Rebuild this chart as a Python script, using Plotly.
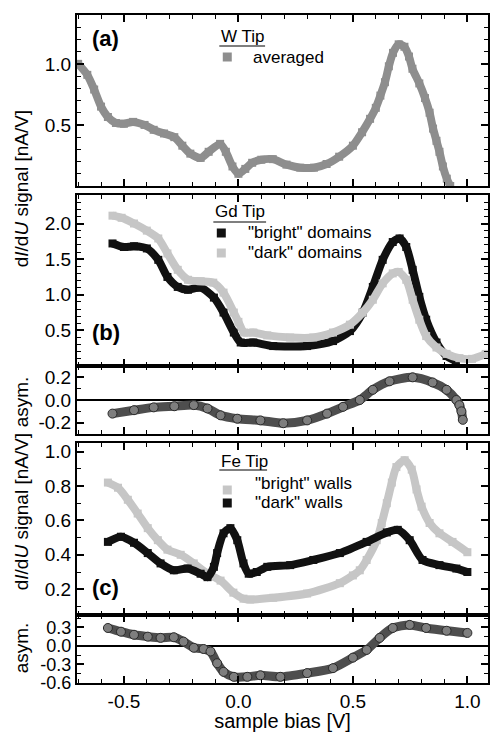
import plotly.graph_objects as go
from plotly.subplots import make_subplots

# ---------------- data ----------------
# panel (a): W tip, averaged
a_x = [-0.70, -0.66, -0.63, -0.60, -0.57, -0.535, -0.50, -0.46, -0.41, -0.37, -0.325, -0.28,
       -0.245, -0.21, -0.165, -0.13, -0.08, -0.055, -0.026, 0.0, 0.03, 0.06, 0.10, 0.15, 0.21,
       0.27, 0.33, 0.385, 0.44, 0.50, 0.54, 0.575, 0.60, 0.62, 0.64, 0.657, 0.675, 0.70, 0.725,
       0.745, 0.76, 0.79, 0.815, 0.835, 0.85, 0.865, 0.878, 0.893, 0.91, 0.925]
a_y = [1.00, 0.91, 0.79, 0.65, 0.565, 0.516, 0.51, 0.525, 0.50, 0.46, 0.43, 0.40,
       0.33, 0.265, 0.23, 0.28, 0.345, 0.28, 0.16, 0.10, 0.14, 0.19, 0.215, 0.22, 0.175,
       0.15, 0.15, 0.18, 0.24, 0.33, 0.44, 0.55, 0.64, 0.74, 0.85, 0.98, 1.09, 1.16, 1.14,
       1.06, 0.96, 0.84, 0.72, 0.60, 0.47, 0.37, 0.28, 0.16, 0.06, 0.0]

# panel (b): Gd tip
b_bright_x = [-0.55, -0.50, -0.456, -0.40, -0.35, -0.31, -0.265, -0.22, -0.165, -0.107, -0.065,
              -0.02, 0.01, 0.065, 0.152, 0.30, 0.413, 0.487, 0.543, 0.587, 0.63, 0.674, 0.704,
              0.733, 0.761, 0.79, 0.82, 0.865, 0.909, 0.95]
b_bright_y = [1.72, 1.67, 1.68, 1.65, 1.49, 1.25, 1.11, 1.07, 1.10, 0.96, 0.75,
              0.47, 0.33, 0.33, 0.28, 0.28, 0.35, 0.49, 0.75, 1.11, 1.49, 1.74, 1.79,
              1.67, 1.35, 0.97, 0.65, 0.33, 0.14, 0.07]
b_dark_x = [-0.55, -0.51, -0.456, -0.40, -0.35, -0.31, -0.265, -0.22, -0.165, -0.11, -0.065,
            -0.02, 0.0, 0.025, 0.065, 0.126, 0.226, 0.327, 0.413, 0.487, 0.543, 0.587, 0.63,
            0.674, 0.70, 0.733, 0.761, 0.79, 0.82, 0.865, 0.909, 0.965, 1.02, 1.08]
b_dark_y = [2.11, 2.08, 2.00, 1.90, 1.79, 1.58, 1.35, 1.21, 1.19, 1.17, 1.03,
            0.75, 0.62, 0.47, 0.47, 0.43, 0.40, 0.40, 0.47, 0.58, 0.75, 0.93, 1.16,
            1.30, 1.32, 1.21, 0.93, 0.65, 0.42, 0.26, 0.17, 0.11, 0.10, 0.17]
b_asym_x = [-0.55, -0.456, -0.37, -0.28, -0.195, -0.135, -0.078, -0.005, 0.096, 0.196, 0.30,
            0.387, 0.457, 0.53, 0.587, 0.66, 0.761, 0.848, 0.909, 0.952, 0.965, 0.974, 0.98]
b_asym_y = [-0.12, -0.09, -0.065, -0.055, -0.045, -0.075, -0.135, -0.165, -0.18, -0.205, -0.18,
            -0.12, -0.06, 0.0, 0.09, 0.165, 0.20, 0.155, 0.09, 0.0, -0.045, -0.10, -0.175]

# panel (c): Fe tip
c_bright_x = [-0.57, -0.526, -0.483, -0.44, -0.396, -0.352, -0.31, -0.252, -0.195, -0.135, -0.078,
              -0.022, 0.022, 0.052, 0.152, 0.30, 0.443, 0.50, 0.53, 0.56, 0.604, 0.626, 0.648,
              0.67, 0.69, 0.726, 0.757, 0.778, 0.80, 0.835, 0.878, 0.935, 1.0]
c_bright_y = [0.82, 0.79, 0.72, 0.64, 0.555, 0.485, 0.43, 0.40, 0.35, 0.29, 0.25,
              0.18, 0.145, 0.14, 0.15, 0.175, 0.235, 0.28, 0.31, 0.37, 0.485, 0.585, 0.70,
              0.82, 0.91, 0.95, 0.895, 0.78, 0.68, 0.585, 0.525, 0.475, 0.415]
c_dark_x = [-0.57, -0.513, -0.456, -0.396, -0.34, -0.282, -0.222, -0.165, -0.135, -0.107, -0.093,
            -0.065, -0.035, -0.005, 0.022, 0.045, 0.08, 0.126, 0.226, 0.327, 0.443, 0.56, 0.648,
            0.696, 0.748, 0.804, 0.878, 0.952, 1.0]
c_dark_y = [0.475, 0.505, 0.47, 0.41, 0.35, 0.31, 0.32, 0.29, 0.27, 0.33, 0.41,
            0.525, 0.555, 0.485, 0.35, 0.29, 0.30, 0.33, 0.34, 0.37, 0.41, 0.475, 0.53,
            0.545, 0.485, 0.37, 0.34, 0.32, 0.30]
c_asym_x = [-0.57, -0.513, -0.456, -0.396, -0.34, -0.282, -0.24, -0.195, -0.152, -0.122, -0.093,
            -0.065, -0.02, 0.039, 0.096, 0.183, 0.30, 0.413, 0.50, 0.56, 0.617, 0.674, 0.748,
            0.82, 0.909, 1.0]
c_asym_y = [0.29, 0.23, 0.18, 0.15, 0.13, 0.14, 0.07, -0.03, -0.05, -0.09, -0.28,
            -0.42, -0.50, -0.50, -0.475, -0.50, -0.44, -0.36, -0.19, -0.065, 0.13, 0.29, 0.34,
            0.29, 0.245, 0.21]

# tick labels
x_ticks = [-0.5, 0.0, 0.5, 1.0]
x_ticktext = ["-0.5", "0.0", "0.5", "1.0"]
ya_ticks = [0.5, 1.0]
ya_ticktext = ["0.5", "1.0"]
yb_ticks = [0.5, 1.0, 1.5, 2.0]
yb_ticktext = ["0.5", "1.0", "1.5", "2.0"]
yba_ticks = [-0.2, 0.0, 0.2]
yba_ticktext = ["-0.2", "0.0", "0.2"]
yc_ticks = [0.2, 0.4, 0.6, 0.8, 1.0]
yc_ticktext = ["0.2", "0.4", "0.6", "0.8", "1.0"]
yca_ticks = [-0.6, -0.3, 0.0, 0.3]
yca_ticktext = ["-0.6", "-0.3", "0.0", "0.3"]

# ---------------- styling ----------------
W, H = 491, 732
ML, MR, MT, MB = 77, 1, 15, 49
PW, PH = W - ML - MR, H - MT - MB
FONT = "Liberation Sans, Arial, sans-serif"
C_A = "#8e8e8e"
C_LIGHT = "#c6c6c6"
C_DARK = "#111111"


def px(xp):
    return (xp - ML) / PW


def py(yp):
    return (H - MB - yp) / PH


fig = make_subplots(rows=5, cols=1, shared_xaxes=True, vertical_spacing=0.0)


def squares(x, y, color, row):
    fig.add_trace(go.Scatter(x=x, y=y, mode="lines+markers",
                             line=dict(color=color, width=8, shape="spline", smoothing=0.7),
                             marker=dict(symbol="square", size=8, color=color),
                             showlegend=False, hoverinfo="skip"), row=row, col=1)


def circles(x, y, row):
    fig.add_trace(go.Scatter(x=x, y=y, mode="lines+markers",
                             line=dict(color="#4e4e4e", width=9, shape="spline", smoothing=0.7),
                             marker=dict(symbol="circle", size=9, color="#7e7e7e",
                                         line=dict(color="#2a2a2a", width=1)),
                             showlegend=False, hoverinfo="skip"), row=row, col=1)


squares(a_x, a_y, C_A, 1)
squares(b_bright_x, b_bright_y, C_DARK, 2)
squares(b_dark_x, b_dark_y, C_LIGHT, 2)
circles(b_asym_x, b_asym_y, 3)
squares(c_bright_x, c_bright_y, C_LIGHT, 4)
squares(c_dark_x, c_dark_y, C_DARK, 4)
circles(c_asym_x, c_asym_y, 5)

common = dict(showline=True, linecolor="black", linewidth=2, mirror="allticks",
              ticks="inside", ticklen=7, tickwidth=1.5, tickcolor="black",
              showgrid=False, zeroline=False)

for i in range(1, 6):
    fig.update_xaxes(row=i, col=1, range=[-0.705, 1.09], tickmode="array",
                     tickvals=x_ticks, ticktext=x_ticktext,
                     tickfont=dict(family=FONT, size=19, color="black"),
                     minor=dict(ticks="inside", ticklen=4, tickwidth=1.2, tickcolor="black",
                                tickmode="linear", tick0=0, dtick=0.1),
                     showticklabels=(i == 5), **common)

fig.update_xaxes(row=5, col=1, title=dict(text="sample bias [V]", standoff=2,
                                           font=dict(family=FONT, size=20, color="black")))

ydefs = [
    (1, [0.0, 1.4], ya_ticks, ya_ticktext, 0.1, [py(186), 1.0], False, 19),
    (2, [0.0, 2.4], yb_ticks, yb_ticktext, 0.1, [py(366), py(195)], False, 19),
    (3, [-0.3, 0.3], yba_ticks, yba_ticktext, 0.1, [py(434), py(366)], True, 19),
    (4, [0.05, 1.05], yc_ticks, yc_ticktext, 0.1, [py(615), py(443)], False, 19),
    (5, [-0.6, 0.5], yca_ticks, yca_ticktext, 0.15, [0.0, py(615)], True, 18),
]
for row, rng, tv, tt, mdt, dom, zl, fs in ydefs:
    c = dict(common)
    c["zeroline"] = zl
    fig.update_yaxes(row=row, col=1, range=rng, tickmode="array", tickvals=tv, ticktext=tt,
                     tickfont=dict(family=FONT, size=fs, color="black"),
                     minor=dict(ticks="inside", ticklen=4, tickwidth=1.2, tickcolor="black",
                                tickmode="linear", tick0=0, dtick=mdt),
                     domain=dom, zerolinecolor="black", zerolinewidth=1.5, **c)

ann = []


def text(t, xp, yp, size=17, anchor="left", bold=False, angle=0):
    ann.append(dict(text=("<b>%s</b>" % t) if bold else t, xref="paper", yref="paper",
                    x=px(xp), y=py(yp), xanchor=anchor, yanchor="middle", showarrow=False,
                    textangle=angle, font=dict(family=FONT, size=size, color="black")))


text("(a)", 106, 39, size=22, anchor="center", bold=True)
text("(b)", 106, 332, size=22, anchor="center", bold=True)
text("(c)", 106, 587, size=22, anchor="center", bold=True)

text("W Tip", 220, 36)
text("averaged", 252, 57)
text("Gd Tip", 214, 212)
text("\"bright\" domains", 247, 233)
text("\"dark\" domains", 247, 253)
text("Fe Tip", 220, 461)
text("\"bright\" walls", 254, 483)
text("\"dark\" walls", 254, 502)

ylab = "d<i>I</i>/d<i>U</i> signal [nA/V]"
text(ylab, 21, 189, size=19, anchor="center", angle=-90)
text(ylab, 21, 512, size=19, anchor="center", angle=-90)
text("asym.", 21, 402, size=19, anchor="center", angle=-90)
text("asym.", 21, 648, size=19, anchor="center", angle=-90)

shapes = []


def uline(x0, x1, yp):
    shapes.append(dict(type="line", xref="paper", yref="paper", x0=px(x0), x1=px(x1),
                       y0=py(yp), y1=py(yp), line=dict(color="black", width=1.2)))


def marker(xp, yp, color):
    shapes.append(dict(type="rect", xref="paper", yref="paper", xsizemode="pixel",
                       ysizemode="pixel", xanchor=px(xp), yanchor=py(yp),
                       x0=-4.5, x1=4.5, y0=-4.5, y1=4.5, fillcolor=color,
                       line=dict(width=0)))


uline(220, 266, 46)
uline(214, 267, 222)
uline(220, 268, 470)
marker(228, 57, C_A)
marker(222, 233, C_DARK)
marker(222, 253, C_LIGHT)
marker(228, 490, C_LIGHT)
marker(228, 503, C_DARK)

fig.update_layout(width=W, height=H, margin=dict(l=ML, r=MR, t=MT, b=MB),
                  paper_bgcolor="white", plot_bgcolor="white",
                  annotations=ann, shapes=shapes, showlegend=False,
                  font=dict(family=FONT, color="black"))

fig.write_html("out.html")
